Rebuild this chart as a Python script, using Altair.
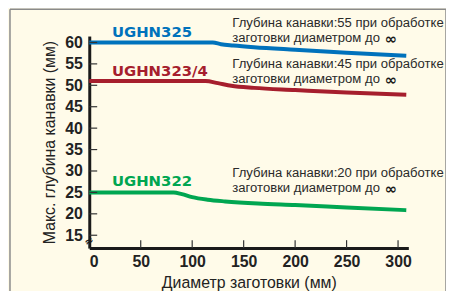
import altair as alt
import pandas as pd

# ---- data ----
series = ["UGHN325", "UGHN323/4", "UGHN322"]
colors = ["#0072BC", "#A61E2D", "#00A651"]

x_325 = [0, 120, 128, 140, 160, 200, 250, 308]
y_325 = [60, 60, 59.6, 59.3, 58.9, 58.3, 57.6, 56.9]

x_3234 = [0, 113, 125, 138, 160, 200, 250, 308]
y_3234 = [51, 51, 50.5, 49.9, 49.4, 48.9, 48.3, 47.8]

x_322 = [0, 82, 90, 100, 115, 132, 164, 200, 250, 308]
y_322 = [25, 25, 24.6, 23.9, 23.3, 22.9, 22.4, 22.05, 21.5, 20.85]

x_ticks = [0, 50, 100, 150, 200, 250, 300]
y_ticks = [15, 20, 25, 30, 35, 40, 45, 50, 55, 60]

label_x = [22, 22, 22]
label_y = [61.3, 52.2, 26.4]

notes = [
    "Глубина канавки:55 при обработке", "заготовки диаметром до",
    "Глубина канавки:45 при обработке", "заготовки диаметром до",
    "Глубина канавки:20 при обработке", "заготовки диаметром до",
]
note_x = [139] * 6
note_y = [63.65, 60.18, 54.06, 50.59, 28.52, 25.06]

inf_x = [287, 287, 287]
inf_y = [60.85, 51.3, 25.75]

break_x = [0]
break_y = [13.5]

# ---- tables ----
rows = []
for name, xs_, ys_ in [(series[0], x_325, y_325), (series[1], x_3234, y_3234), (series[2], x_322, y_322)]:
    for a, b in zip(xs_, ys_):
        rows.append({"series": name, "x": a, "y": b})
lines_df = pd.DataFrame(rows)
labels_df = pd.DataFrame({"series": series, "x": label_x, "y": label_y})
notes_df = pd.DataFrame({"text": notes, "x": note_x, "y": note_y})
inf_df = pd.DataFrame({"text": ["∞"] * 3, "x": inf_x, "y": inf_y})
break_df = pd.DataFrame({"text": ["≈"], "x": break_x, "y": break_y})

W, H = 322, 214
xs = alt.Scale(domain=[0, 310], nice=False, zero=False)
ys = alt.Scale(domain=[12, 61.5], nice=False, zero=False)
cs = alt.Scale(domain=series, range=colors)

one = alt.Data(values=[{"a": 1}])
border_top = alt.Chart(one).mark_rule(color="#8A8A8A", strokeWidth=1.5).encode(
    x=alt.value(-80), x2=alt.value(360), y=alt.value(-27)
)
border_left = alt.Chart(one).mark_rule(color="#8A8A8A", strokeWidth=1.5).encode(
    x=alt.value(-80), y=alt.value(-27), y2=alt.value(320)
)
border_right = alt.Chart(one).mark_rule(color="#8A8A8A", strokeWidth=1.5).encode(
    x=alt.value(360), y=alt.value(-27), y2=alt.value(320)
)

x_axis = alt.Axis(
    values=x_ticks, title="Диаметр заготовки (мм)", grid=False, ticks=False, labelOverlap=False,
    labelFont="Liberation Sans", labelFontWeight="bold", labelFontSize=16, labelColor="#222",
    labelPadding=6, titleFont="Liberation Sans", titleFontSize=16, titleFontWeight="normal",
    titleColor="#222", titlePadding=5, domainColor="#1a1a1a", domainWidth=3,
)
y_axis = alt.Axis(
    values=y_ticks, title="Макс. глубина канавки (мм)", grid=False, ticks=False, labelOverlap=False,
    labelFont="Liberation Sans", labelFontWeight="bold", labelFontSize=16, labelColor="#222",
    labelPadding=7, titleFont="Liberation Sans", titleFontSize=16, titleFontWeight="normal",
    titleColor="#222", titlePadding=7, domainColor="#1a1a1a", domainWidth=3,
)

lines = alt.Chart(lines_df).mark_line(strokeWidth=4, interpolate="monotone").encode(
    x=alt.X("x:Q", scale=xs, axis=x_axis),
    y=alt.Y("y:Q", scale=ys, axis=y_axis),
    color=alt.Color("series:N", scale=cs, legend=None),
)

ytick_df = pd.DataFrame({"y": y_ticks})
xtick_df = pd.DataFrame({"x": x_ticks[1:]})
yticks = alt.Chart(ytick_df).mark_rule(color="#333", strokeWidth=1.2).encode(
    y=alt.Y("y:Q", scale=ys, axis=y_axis), x=alt.value(0), x2=alt.value(8)
)
xticks = alt.Chart(xtick_df).mark_rule(color="#333", strokeWidth=1.2).encode(
    x=alt.X("x:Q", scale=xs, axis=x_axis), y=alt.value(H - 8), y2=alt.value(H)
)

labels = alt.Chart(labels_df).mark_text(
    font="DejaVu Sans", fontWeight="bold", fontSize=15, align="left", baseline="alphabetic"
).encode(
    x=alt.X("x:Q", scale=xs, axis=x_axis), y=alt.Y("y:Q", scale=ys, axis=y_axis),
    text="series:N", color=alt.Color("series:N", scale=cs, legend=None),
)

note_text = alt.Chart(notes_df).mark_text(
    font="Liberation Sans", fontSize=13.2, align="left", baseline="alphabetic", color="#2a2a2a"
).encode(x=alt.X("x:Q", scale=xs, axis=x_axis), y=alt.Y("y:Q", scale=ys, axis=y_axis), text="text:N")

inf_text = alt.Chart(inf_df).mark_text(
    font="DejaVu Sans", fontWeight="bold", fontSize=15, align="left", baseline="middle", color="#1a1a1a"
).encode(x=alt.X("x:Q", scale=xs, axis=x_axis), y=alt.Y("y:Q", scale=ys, axis=y_axis), text="text:N")

break_text = alt.Chart(break_df).mark_text(
    font="DejaVu Sans", fontWeight="bold", fontSize=11, align="center", baseline="middle",
    color="#1a1a1a", angle=330
).encode(x=alt.X("x:Q", scale=xs, axis=x_axis), y=alt.Y("y:Q", scale=ys, axis=y_axis), text="text:N")

chart = alt.layer(
    lines, border_top, border_left, border_right, yticks, xticks,
    labels, note_text, inf_text, break_text
).properties(
    width=W, height=H,
    autosize=alt.AutoSizeParams(type="none"),
    padding={"left": 82, "top": 27, "right": 38, "bottom": 42},
    background="#FFFBE9",
).configure_view(stroke="transparent").configure_axis(labelOverlap=False)

chart.save("out.html", embed_options={"renderer": "svg", "actions": False})
